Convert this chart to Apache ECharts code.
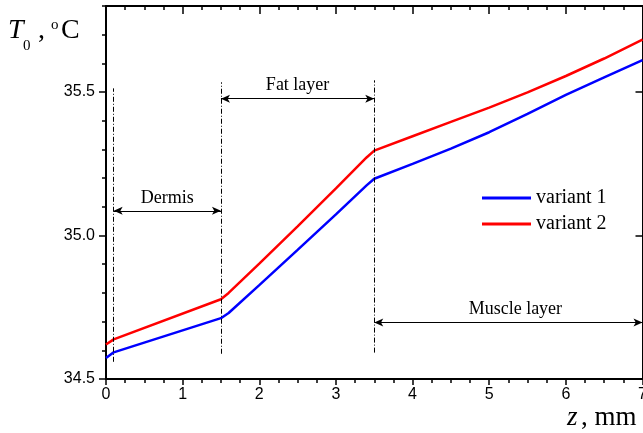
<!DOCTYPE html>
<html>
<head>
<meta charset="utf-8">
<script src="https://cdn.jsdelivr.net/npm/echarts@6/dist/echarts.min.js"></script>
<style>
  html, body { margin: 0; padding: 0; background: #fff; }
  #chart { width: 643px; height: 433px; }
</style>
</head>
<body>
<div id="chart"></div>
<script>
// Depth below the skin surface, mm
var depthZ = [0, 0.1, 1.5, 1.6, 2.0, 2.5, 3.0, 3.4, 3.5, 4.0, 4.5, 5.0, 5.5, 6.0, 6.5, 7.0];
// Tissue temperature T0, degC
var variant1 = [34.573, 34.593, 34.712, 34.730, 34.827, 34.950, 35.074, 35.175, 35.198,
                35.250, 35.303, 35.360, 35.424, 35.490, 35.551, 35.611];
var variant2 = [34.620, 34.638, 34.778, 34.800, 34.902, 35.032, 35.164, 35.272, 35.296,
                35.346, 35.396, 35.446, 35.499, 35.556, 35.617, 35.683];
var seriesNames = ['variant 1', 'variant 2'];

// Tissue layers: extent along z and the temperature level of each span arrow
var layerNames = ['Dermis', 'Fat layer', 'Muscle layer'];
var layerStart = [0.1, 1.5, 3.5];
var layerEnd = [1.5, 3.5, 7.0];
var layerArrowT = [35.086, 35.477, 34.697];

// Layer boundaries drawn as dash-dot verticals
var boundaryZ = [0.1, 1.5, 3.5];
var boundaryTop = [35.513, 35.534, 35.541];
var boundaryBottom = [34.560, 34.588, 34.592];

// Axis ranges and ticks
var zTicks = { min: 0, max: 7, step: 1 };
var tTicks = { min: 34.5, max: 35.8, step: 0.5, minorStep: 0.1 };

function pairs(xs, ys) {
  return xs.map(function (x, i) { return [x, ys[i]]; });
}

var black = '#000';
var serif = 'Liberation Serif';
var sans = 'Liberation Sans';

function xAxisBase(pos) {
  return {
    type: 'value', position: pos, min: zTicks.min, max: zTicks.max, interval: zTicks.step,
    axisLine: { onZero: false, lineStyle: { color: black, width: 2 } },
    splitLine: { show: false }
  };
}
function yAxisBase(pos, step) {
  return {
    type: 'value', position: pos, min: tTicks.min, max: tTicks.max, interval: step,
    axisLine: { onZero: false, lineStyle: { color: black, width: 2 } },
    splitLine: { show: false }
  };
}

var xBottom = xAxisBase('bottom');
xBottom.axisTick = { inside: false, length: 6, lineStyle: { color: black, width: 1.5 } };
xBottom.minorTick = { show: true, splitNumber: 4, length: 4, lineStyle: { color: black, width: 1.5 } };
xBottom.axisLabel = { color: black, fontFamily: sans, fontSize: 16, margin: 8 };

var xTop = xAxisBase('top');
xTop.axisTick = { inside: true, length: 8, lineStyle: { color: black, width: 1.5 } };
xTop.minorTick = { show: true, splitNumber: 4, length: 4, lineStyle: { color: black, width: 1.5 } };
xTop.axisLabel = { show: false };

var yLeft = yAxisBase('left', tTicks.step);
yLeft.axisTick = { inside: false, length: 7, lineStyle: { color: black, width: 1.5 } };
yLeft.axisLabel = {
  color: black, fontFamily: sans, fontSize: 16, margin: 11, showMaxLabel: false,
  formatter: function (v) { return v.toFixed(1); }
};

var yLeftMinor = yAxisBase('left', tTicks.minorStep);
yLeftMinor.axisLine = { show: false };
yLeftMinor.axisTick = { inside: false, length: 4, lineStyle: { color: black, width: 1.5 } };
yLeftMinor.axisLabel = { show: false };

var yRight = yAxisBase('right', tTicks.step);
yRight.axisTick = { inside: true, length: 7, lineStyle: { color: black, width: 1.5 } };
yRight.axisLabel = { show: false };

var yRightMinor = yAxisBase('right', tTicks.minorStep);
yRightMinor.axisLine = { show: false };
yRightMinor.axisTick = { inside: true, length: 4, lineStyle: { color: black, width: 1.5 } };
yRightMinor.axisLabel = { show: false };

var boundaryLines = boundaryZ.map(function (z, i) {
  return [{ coord: [z, boundaryBottom[i]] }, { coord: [z, boundaryTop[i]] }];
});

// Span arrows; the last label sits a little right of its arrow's midpoint
var layerArrows = layerNames.map(function (name, i) {
  var start = { name: name, coord: [layerStart[i], layerArrowT[i]] };
  if (i === layerNames.length - 1) {
    start.label = { padding: [0, 0, 0, 14] };
  }
  return [start, { coord: [layerEnd[i], layerArrowT[i]] }];
});

var chart = echarts.init(document.getElementById('chart'), null, { renderer: 'canvas' });

chart.setOption({
  animation: false,
  backgroundColor: '#fff',
  grid: { left: 106, right: 0.5, top: 6, bottom: 54, containLabel: false, outerBoundsMode: 'none' },
  xAxis: [xBottom, xTop],
  yAxis: [yLeft, yLeftMinor, yRight, yRightMinor],
  legend: {
    data: seriesNames,
    orient: 'vertical',
    left: 477, top: 183,
    icon: 'rect',
    itemWidth: 49, itemHeight: 3, itemGap: 6,
    textStyle: { color: black, fontFamily: serif, fontSize: 20 },
    selectedMode: false
  },
  series: [
    {
      name: seriesNames[0], type: 'line', data: pairs(depthZ, variant1),
      symbol: 'none', color: '#0000ff', lineStyle: { width: 2.5, color: '#0000ff' },
      silent: true
    },
    {
      name: seriesNames[1], type: 'line', data: pairs(depthZ, variant2),
      symbol: 'none', color: '#ff0000', lineStyle: { width: 2.5, color: '#ff0000' },
      silent: true
    },
    {
      name: 'boundaries', type: 'line', data: [], silent: true,
      markLine: {
        silent: true, symbol: ['none', 'none'], animation: false,
        label: { show: false },
        lineStyle: { color: black, width: 1, type: [5, 2, 1, 2] },
        emphasis: { disabled: true },
        data: boundaryLines
      }
    },
    {
      name: 'layers', type: 'line', data: [], silent: true,
      markLine: {
        silent: true, symbol: ['arrow', 'arrow'], symbolSize: [6, 9], animation: false,
        lineStyle: { color: black, width: 1, type: 'solid' },
        emphasis: { disabled: true },
        label: {
          show: true, position: 'middle', distance: 4,
          color: black, fontFamily: serif, fontSize: 18,
          formatter: function (p) { return p.name; }
        },
        data: layerArrows
      }
    }
  ],
  graphic: [
    // T0 , oC
    { type: 'text', left: 8, top: 17, style: { text: 'T', font: 'italic 28px "Liberation Serif"', fill: black } },
    { type: 'text', left: 23, top: 39, style: { text: '0', font: '15px "Liberation Serif"', fill: black } },
    { type: 'text', left: 38, top: 17, style: { text: ',', font: '28px "Liberation Serif"', fill: black } },
    { type: 'text', left: 51, top: 18, style: { text: 'o', font: '15px "Liberation Serif"', fill: black } },
    { type: 'text', left: 61, top: 17, style: { text: 'C', font: '28px "Liberation Serif"', fill: black } },
    // z, mm
    { type: 'text', left: 567, top: 404, style: { text: 'z', font: 'italic 27px "Liberation Serif"', fill: black } },
    { type: 'text', left: 581, top: 404, style: { text: ', mm', font: '27px "Liberation Serif"', fill: black } }
  ]
});
</script>
</body>
</html>
